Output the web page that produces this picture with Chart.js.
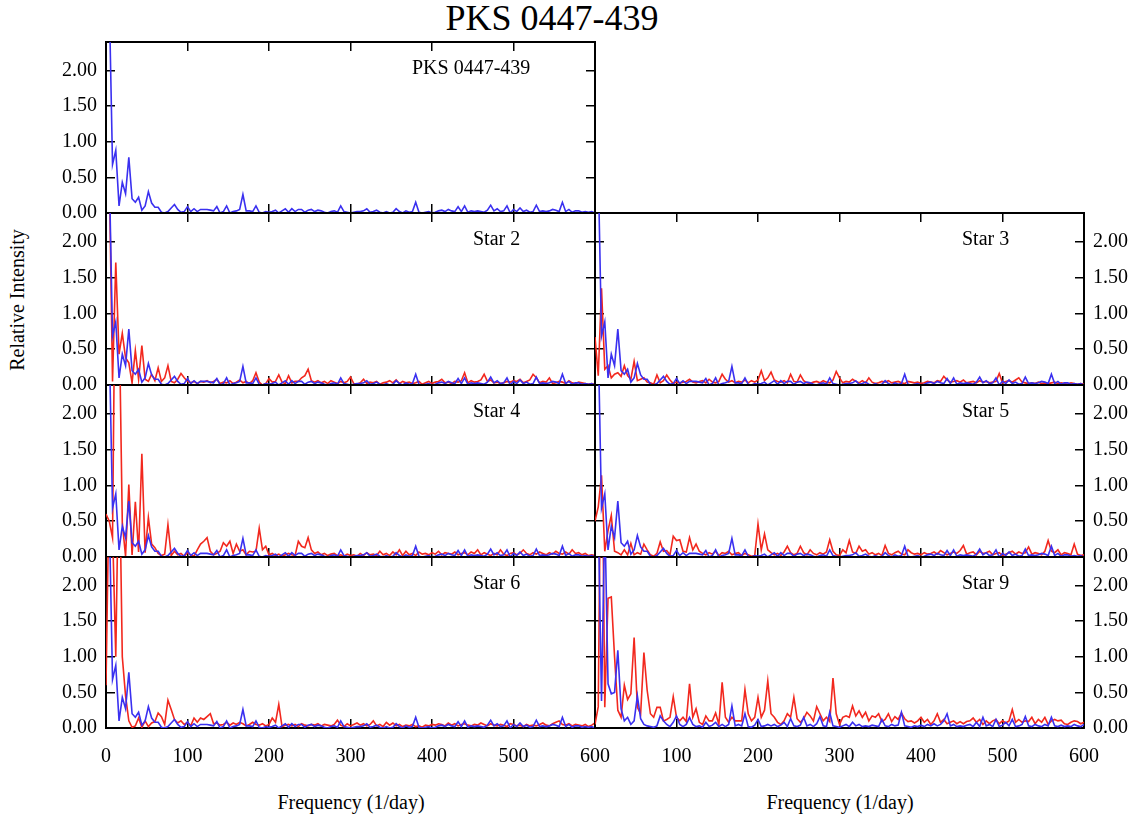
<!DOCTYPE html>
<html><head><meta charset="utf-8">
<script src="https://cdn.jsdelivr.net/npm/chart.js@4"></script>
<style>
html,body{margin:0;padding:0;background:#fff;width:1141px;height:820px;overflow:hidden;}
#wrap{position:relative;width:1141px;height:820px;font-family:"Liberation Serif","Times New Roman",serif;color:#000;}
canvas{position:absolute;}
.t{position:absolute;white-space:nowrap;line-height:1;font-size:20px;}
</style></head><body><div id="wrap">
<div class="t" style="left:552px;top:0px;font-size:36px;transform:translateX(-50%);">PKS 0447-439</div>
<div class="t" style="left:17px;top:300px;transform:translate(-50%,-50%) rotate(-90deg);">Relative Intensity</div>
<div class="t" style="left:351px;top:792px;transform:translateX(-50%);">Frequency (1/day)</div>
<div class="t" style="left:840px;top:792px;transform:translateX(-50%);">Frequency (1/day)</div>
</div>
<script>
// Frequency grid (1/day)
const freq = [0,4,8,12,16,20,24,28,32,36,40,44,48,52,56,60,64,68,72,76,80,84,88,92,96,100,104,108,112,116,120,124,128,132,136,140,144,148,152,156,160,164,168,172,176,180,184,188,192,196,200,204,208,212,216,220,224,228,232,236,240,244,248,252,256,260,264,268,272,276,280,284,288,292,296,300,304,308,312,316,320,324,328,332,336,340,344,348,352,356,360,364,368,372,376,380,384,388,392,396,400,404,408,412,416,420,424,428,432,436,440,444,448,452,456,460,464,468,472,476,480,484,488,492,496,500,504,508,512,516,520,524,528,532,536,540,544,548,552,556,560,564,568,572,576,580,584,588,592,596,600];

// PKS 0447-439 (blue, shared by panels)
const pks = [4.0,3.0,0.68,0.88,0.1,0.43,0.27,0.78,0.2,0.15,
0.22,0.04,0.1,0.3,0.14,0.08,0.08,0.01,0.0,0.02,
0.07,0.12,0.05,0.01,0.02,0.09,0.02,0.06,0.02,0.05,
0.05,0.05,0.04,0.03,0.09,0.0,0.02,0.1,0.0,0.02,
0.03,0.05,0.26,0.03,0.03,0.02,0.1,0.01,0.0,0.02,
0.01,0.02,0.04,0.0,0.03,0.06,0.01,0.06,0.02,0.05,
0.05,0.01,0.04,0.05,0.02,0.04,0.03,0.01,0.0,0.02,
0.03,0.01,0.1,0.02,0.01,0.0,0.01,0.02,0.02,0.03,
0.06,0.01,0.02,0.04,0.01,0.0,0.02,0.0,0.01,0.06,
0.02,0.0,0.03,0.01,0.02,0.15,0.01,0.0,0.01,0.02,
0.0,0.01,0.03,0.04,0.02,0.05,0.03,0.02,0.09,0.02,
0.1,0.01,0.03,0.02,0.03,0.02,0.01,0.04,0.11,0.03,
0.06,0.02,0.03,0.1,0.0,0.05,0.02,0.07,0.02,0.04,
0.01,0.02,0.11,0.02,0.03,0.02,0.03,0.05,0.04,0.02,
0.15,0.02,0.05,0.01,0.03,0.03,0.01,0.02,0.01,0.02,
0.0];

// PKS as seen in the Star 9 comparison (blue)
const pks9 = [4.0,3.0,0.38,3.0,0.62,0.48,0.5,1.09,0.27,0.1,
0.15,0.05,0.1,0.45,0.13,0.05,0.03,0.02,0.01,0.03,
0.17,0.1,0.05,0.02,0.08,0.17,0.05,0.02,0.05,0.15,
0.05,0.02,0.03,0.01,0.08,0.02,0.04,0.08,0.02,0.05,
0.02,0.05,0.31,0.03,0.05,0.03,0.2,0.02,0.01,0.04,
0.12,0.02,0.03,0.05,0.03,0.05,0.02,0.04,0.08,0.02,
0.13,0.03,0.02,0.04,0.15,0.03,0.05,0.02,0.06,0.16,
0.03,0.02,0.22,0.03,0.02,0.01,0.03,0.05,0.02,0.08,
0.03,0.05,0.02,0.03,0.02,0.04,0.03,0.02,0.12,0.03,
0.02,0.05,0.03,0.04,0.22,0.03,0.02,0.01,0.03,0.02,
0.04,0.02,0.05,0.03,0.06,0.03,0.05,0.1,0.2,0.03,
0.05,0.02,0.03,0.02,0.04,0.05,0.02,0.08,0.02,0.15,
0.03,0.05,0.02,0.12,0.02,0.04,0.08,0.03,0.12,0.02,
0.03,0.05,0.16,0.03,0.02,0.05,0.03,0.02,0.05,0.03,
0.15,0.03,0.02,0.04,0.02,0.03,0.02,0.05,0.03,0.02,
0.05];

const star2 = [4.0,3.0,0.05,1.71,0.43,0.72,0.38,0.31,0.03,0.48,
0.08,0.55,0.08,0.05,0.15,0.06,0.24,0.05,0.1,0.27,
0.05,0.03,0.08,0.16,0.1,0.05,0.03,0.05,0.02,0.05,
0.04,0.06,0.03,0.05,0.08,0.02,0.04,0.03,0.06,0.02,
0.04,0.07,0.03,0.05,0.02,0.06,0.17,0.04,0.0,0.02,
0.09,0.04,0.05,0.14,0.04,0.02,0.13,0.03,0.05,0.05,
0.1,0.13,0.22,0.06,0.04,0.06,0.03,0.05,0.02,0.06,
0.04,0.02,0.05,0.03,0.05,0.11,0.02,0.01,0.03,0.08,
0.02,0.04,0.03,0.05,0.01,0.03,0.04,0.06,0.03,0.07,
0.02,0.05,0.03,0.04,0.02,0.03,0.05,0.01,0.03,0.05,
0.02,0.04,0.05,0.08,0.03,0.04,0.02,0.05,0.04,0.06,
0.17,0.03,0.06,0.04,0.05,0.07,0.15,0.05,0.07,0.03,
0.04,0.02,0.03,0.05,0.04,0.06,0.05,0.08,0.03,0.05,
0.07,0.15,0.1,0.03,0.05,0.04,0.1,0.02,0.03,0.05,
0.04,0.02,0.06,0.03,0.02,0.04,0.03,0.02,0.01,0.02,
0.01];

const star3 = [0.67,0.13,1.35,0.22,0.27,0.1,0.15,0.17,0.12,0.27,
0.13,0.08,0.33,0.06,0.08,0.1,0.04,0.03,0.01,0.14,
0.03,0.06,0.14,0.07,0.02,0.04,0.03,0.04,0.05,0.08,
0.04,0.03,0.05,0.06,0.03,0.08,0.04,0.03,0.05,0.15,
0.08,0.04,0.06,0.03,0.05,0.04,0.07,0.03,0.06,0.04,
0.07,0.2,0.06,0.1,0.18,0.07,0.05,0.04,0.06,0.03,
0.15,0.05,0.04,0.14,0.06,0.03,0.02,0.04,0.05,0.03,
0.06,0.04,0.03,0.07,0.19,0.1,0.03,0.05,0.04,0.08,
0.05,0.03,0.06,0.03,0.1,0.04,0.02,0.03,0.05,0.04,
0.06,0.03,0.04,0.05,0.03,0.02,0.05,0.04,0.03,0.04,
0.02,0.03,0.05,0.04,0.03,0.06,0.05,0.12,0.07,0.04,
0.05,0.06,0.04,0.07,0.03,0.04,0.05,0.03,0.06,0.04,
0.05,0.03,0.04,0.05,0.16,0.03,0.05,0.06,0.04,0.07,
0.1,0.04,0.03,0.02,0.03,0.02,0.04,0.02,0.03,0.02,
0.03,0.04,0.02,0.03,0.02,0.01,0.03,0.02,0.01,0.02,
0.01];

const star4 = [0.6,0.5,0.27,5.0,3.5,0.48,0.01,1.01,0.03,0.77,
0.07,1.44,0.06,0.55,0.18,0.13,0.05,0.02,0.04,0.45,
0.02,0.08,0.03,0.05,0.01,0.06,0.03,0.01,0.1,0.18,
0.22,0.27,0.08,0.03,0.05,0.08,0.2,0.15,0.22,0.05,
0.18,0.08,0.1,0.03,0.08,0.07,0.08,0.4,0.1,0.15,
0.03,0.05,0.02,0.04,0.01,0.03,0.05,0.03,0.02,0.22,
0.15,0.13,0.27,0.1,0.05,0.07,0.03,0.05,0.02,0.04,
0.05,0.02,0.03,0.01,0.04,0.02,0.03,0.01,0.05,0.02,
0.06,0.03,0.04,0.02,0.08,0.03,0.05,0.02,0.07,0.03,
0.1,0.02,0.08,0.03,0.05,0.02,0.07,0.04,0.05,0.03,
0.06,0.04,0.08,0.03,0.06,0.05,0.04,0.07,0.03,0.05,
0.06,0.03,0.07,0.05,0.1,0.03,0.06,0.04,0.02,0.05,
0.03,0.1,0.04,0.02,0.05,0.06,0.03,0.05,0.1,0.05,
0.03,0.06,0.04,0.07,0.05,0.03,0.06,0.04,0.08,0.05,
0.04,0.07,0.04,0.1,0.05,0.06,0.03,0.05,0.02,0.03,
0.02];

const star5 = [0.5,0.7,1.14,0.08,0.37,0.58,0.08,0.06,0.03,0.1,
0.03,0.19,0.03,0.06,0.04,0.18,0.1,0.03,0.01,0.05,
0.21,0.08,0.09,0.03,0.29,0.23,0.24,0.08,0.07,0.27,
0.1,0.18,0.08,0.05,0.03,0.06,0.04,0.08,0.02,0.06,
0.05,0.08,0.03,0.05,0.06,0.02,0.05,0.03,0.01,0.02,
0.46,0.1,0.32,0.1,0.06,0.03,0.05,0.02,0.07,0.15,
0.06,0.03,0.05,0.15,0.06,0.03,0.1,0.05,0.03,0.06,
0.04,0.07,0.24,0.08,0.03,0.02,0.1,0.06,0.23,0.07,
0.05,0.15,0.08,0.1,0.04,0.06,0.03,0.05,0.02,0.16,
0.05,0.03,0.06,0.08,0.04,0.03,0.1,0.06,0.04,0.05,
0.03,0.06,0.04,0.05,0.07,0.04,0.09,0.06,0.03,0.05,
0.07,0.05,0.09,0.16,0.04,0.06,0.07,0.03,0.08,0.05,
0.06,0.08,0.03,0.05,0.06,0.02,0.04,0.06,0.08,0.04,
0.07,0.05,0.06,0.14,0.04,0.06,0.05,0.03,0.08,0.23,
0.08,0.06,0.1,0.03,0.06,0.05,0.03,0.18,0.04,0.02,
0.03];

const star6 = [0.6,3.5,2.8,1.0,4.0,1.0,0.45,0.1,0.01,0.03,
0.14,0.01,0.1,0.02,0.07,0.09,0.21,0.16,0.05,0.39,
0.26,0.12,0.07,0.1,0.05,0.08,0.03,0.14,0.08,0.14,
0.12,0.16,0.2,0.06,0.07,0.04,0.05,0.08,0.04,0.07,
0.05,0.08,0.06,0.03,0.05,0.08,0.05,0.04,0.06,0.03,
0.05,0.14,0.08,0.33,0.02,0.04,0.05,0.03,0.05,0.02,
0.06,0.04,0.03,0.05,0.04,0.06,0.03,0.05,0.04,0.03,
0.05,0.11,0.04,0.02,0.06,0.03,0.05,0.07,0.04,0.06,
0.03,0.05,0.1,0.03,0.05,0.02,0.08,0.04,0.07,0.03,
0.05,0.02,0.04,0.03,0.05,0.02,0.03,0.01,0.04,0.03,
0.05,0.04,0.06,0.05,0.03,0.07,0.04,0.06,0.03,0.05,
0.06,0.04,0.03,0.05,0.04,0.07,0.05,0.03,0.06,0.04,
0.03,0.05,0.04,0.02,0.06,0.05,0.03,0.04,0.02,0.05,
0.03,0.04,0.03,0.05,0.07,0.04,0.03,0.06,0.08,0.1,
0.05,0.04,0.06,0.03,0.05,0.04,0.03,0.05,0.02,0.04,
0.07];

const star9 = [0.05,0.3,5.0,0.29,1.82,1.84,1.0,0.25,0.15,0.6,
0.4,0.48,1.27,0.29,0.2,1.06,0.53,0.2,0.15,0.29,
0.29,0.1,0.12,0.15,0.44,0.15,0.1,0.15,0.09,0.62,
0.15,0.27,0.08,0.05,0.17,0.1,0.1,0.21,0.05,0.64,
0.15,0.08,0.15,0.1,0.1,0.1,0.54,0.2,0.1,0.15,
0.43,0.15,0.25,0.66,0.2,0.15,0.08,0.05,0.1,0.2,
0.15,0.43,0.13,0.08,0.13,0.22,0.17,0.1,0.3,0.2,
0.1,0.15,0.09,0.7,0.2,0.05,0.15,0.17,0.15,0.31,
0.17,0.24,0.15,0.22,0.1,0.17,0.15,0.2,0.09,0.12,
0.2,0.09,0.16,0.12,0.21,0.13,0.09,0.1,0.07,0.1,
0.15,0.08,0.12,0.05,0.1,0.2,0.08,0.12,0.06,0.08,
0.1,0.06,0.09,0.06,0.09,0.1,0.14,0.08,0.12,0.05,
0.1,0.06,0.1,0.12,0.06,0.1,0.07,0.1,0.26,0.08,
0.12,0.08,0.1,0.09,0.15,0.06,0.12,0.08,0.15,0.05,
0.1,0.12,0.1,0.11,0.06,0.05,0.08,0.1,0.09,0.06,
0.08];

// Tick labels
const xTickValues = [0,100,200,300,400,500,600];
const xTickLabels = ['0','100','200','300','400','500','600'];
const yTickValues = [0,0.5,1,1.5,2];
const yTickLabels = ['0.00','0.50','1.00','1.50','2.00'];

const RED = '#f2281e';
const BLUE = '#3a30f0';
const FONT = {family: "'Liberation Serif', 'Times New Roman', serif", size: 20};

// panel layout (page pixels)
const rowTops = [42, 213, 385, 557];
const rowBottoms = [213, 385, 557, 728];

const panels = [
  {name: 'PKS 0447-439', col: 'L', row: 0, red: null, blue: pks, labelLeft: 412},
  {name: 'Star 2', col: 'L', row: 1, red: star2, blue: pks, labelLeft: 473},
  {name: 'Star 3', col: 'R', row: 1, red: star3, blue: pks, labelLeft: 962},
  {name: 'Star 4', col: 'L', row: 2, red: star4, blue: pks, labelLeft: 473},
  {name: 'Star 5', col: 'R', row: 2, red: star5, blue: pks, labelLeft: 962},
  {name: 'Star 6', col: 'L', row: 3, red: star6, blue: pks, labelLeft: 473},
  {name: 'Star 9', col: 'R', row: 3, red: star9, blue: pks9, labelLeft: 962}
];

const wrap = document.getElementById('wrap');

function toXY(vals) { return freq.map((f, i) => ({x: f, y: vals[i]})); }

function makePanel(p) {
  const rowTop = rowTops[p.row];
  const rowH = rowBottoms[p.row] - rowTop;
  const isBottom = p.row === 3;
  const padTop = 36;
  const padBot = isBottom ? 15 : 36;
  const xH = isBottom ? 45 : 0;
  let cl, cw, padL, padR, yLW, yRW;
  if (p.col === 'L') { cl = 0; padL = 0; yLW = 106; yRW = 0; padR = 46; cw = 106 + 489 + 46; }
  else { cl = 555; padL = 40; yLW = 0; yRW = 57; padR = 0; cw = 40 + 489 + 57; }
  const ch = padTop + rowH + xH + padBot;
  const c = document.createElement('canvas');
  c.width = cw; c.height = ch;
  c.style.left = cl + 'px'; c.style.top = (rowTop - padTop) + 'px';
  c.style.width = cw + 'px'; c.style.height = ch + 'px';
  wrap.appendChild(c);

  const grid = {drawOnChartArea: false, drawTicks: true, tickLength: -9, color: '#000', lineWidth: 1.5, tickWidth: 1.5};
  const border = {display: true, color: '#000', width: 2};
  const xTicksCommon = {stepSize: 100, autoSkip: false, includeBounds: false, maxRotation: 0, minRotation: 0};
  const yTicksCommon = {stepSize: 0.5, autoSkip: false, includeBounds: false};

  const datasets = [];
  datasets.push({data: toXY(p.blue), borderColor: BLUE, borderWidth: 1.6, pointRadius: 0, tension: 0, fill: false, xAxisID: 'x', yAxisID: 'y'});
  if (p.red) datasets.push({data: toXY(p.red), borderColor: RED, borderWidth: 1.6, pointRadius: 0, tension: 0, fill: false, xAxisID: 'x', yAxisID: 'y'});

  new Chart(c, {
    type: 'line',
    data: {datasets},
    options: {
      responsive: false, animation: false, devicePixelRatio: 1,
      layout: {padding: {top: padTop, bottom: padBot, left: padL, right: padR}},
      plugins: {legend: {display: false}, tooltip: {enabled: false}, title: {display: false}},
      events: [],
      scales: {
        x: {type: 'linear', position: 'bottom', min: 0, max: 600,
            afterFit: s => { s.height = xH; },
            grid, border,
            ticks: Object.assign({}, xTicksCommon, {display: isBottom, padding: 26, font: FONT, color: '#000',
              callback: v => { const k = xTickValues.indexOf(v); if (k < 0) return ''; if (p.col === 'R' && v === 0) return ''; return xTickLabels[k]; }})},
        x2: {type: 'linear', position: 'top', min: 0, max: 600,
            afterFit: s => { s.height = 0; },
            grid, border, ticks: Object.assign({}, xTicksCommon, {display: false})},
        y: {type: 'linear', position: 'left', min: 0, max: 2.4,
            afterFit: s => { s.width = yLW; },
            grid, border,
            ticks: Object.assign({}, yTicksCommon, {display: p.col === 'L', padding: 18, font: FONT, color: '#000',
              callback: v => { const k = yTickValues.indexOf(v); return k < 0 ? '' : yTickLabels[k]; }})},
        y2: {type: 'linear', position: 'right', min: 0, max: 2.4,
            afterFit: s => { s.width = yRW; },
            grid, border,
            ticks: Object.assign({}, yTicksCommon, {display: p.col === 'R', padding: 18, font: FONT, color: '#000',
              callback: v => { const k = yTickValues.indexOf(v); return k < 0 ? '' : yTickLabels[k]; }})}
      }
    }
  });

  const lab = document.createElement('div');
  lab.className = 't';
  lab.textContent = p.name;
  lab.style.left = p.labelLeft + 'px';
  lab.style.top = (rowTop + 15) + 'px';
  wrap.appendChild(lab);
}

panels.forEach(makePanel);
</script>
</body></html>
